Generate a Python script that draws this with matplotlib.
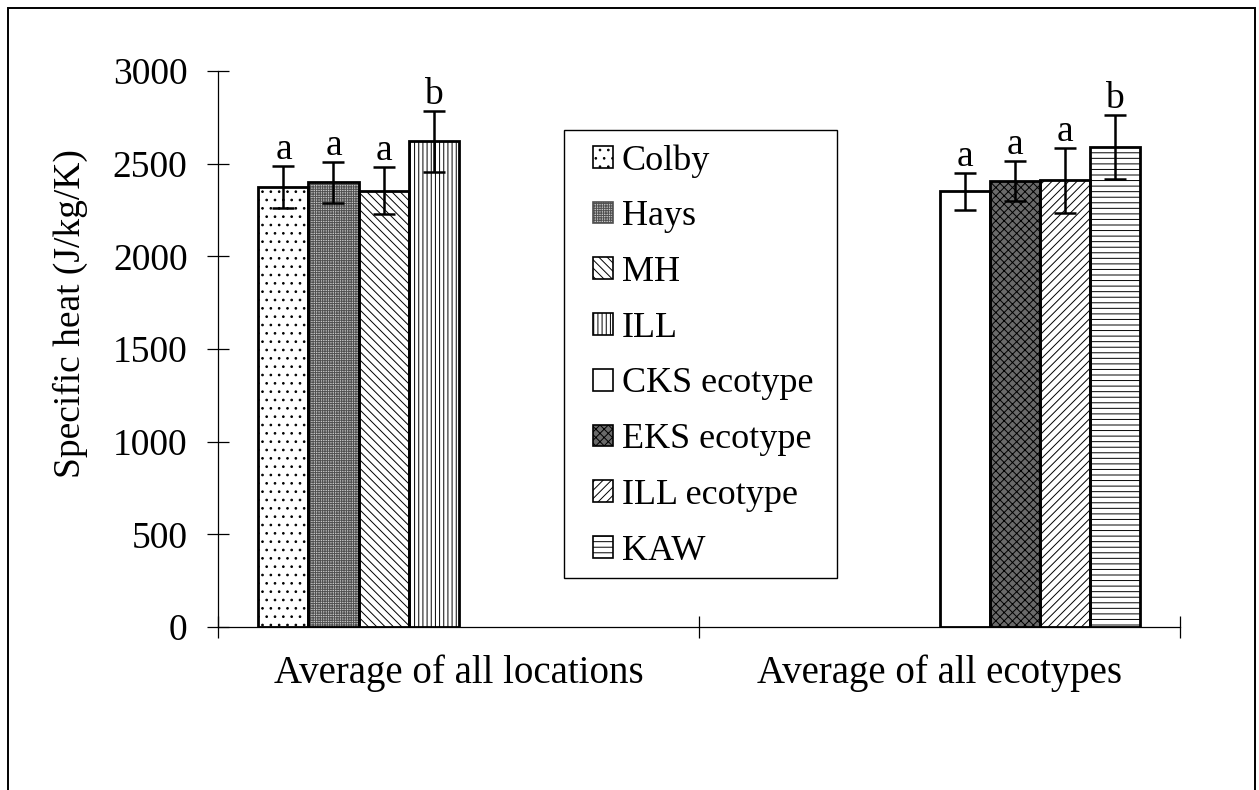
import numpy as np
import matplotlib
matplotlib.use("Agg")
from matplotlib import pyplot as plt
from matplotlib.patches import Rectangle, Patch

# specific heat means and error bars, one bar per series
groups = ["Average of all locations", "Average of all ecotypes"]
series = ["Colby", "Hays", "MH", "ILL", "CKS ecotype", "EKS ecotype", "ILL ecotype", "KAW"]
series_group = [0, 0, 0, 0, 1, 1, 1, 1]
means = [2375, 2400, 2355, 2620, 2350, 2405, 2410, 2590]
errors = [115, 110, 125, 165, 100, 108, 175, 175]
letters = ["a", "a", "a", "b", "a", "a", "a", "b"]

# fill, hatch and hatch colour per series
faces = ["white", "#c8c8c8", "white", "white", "white", "#6a6a6a", "white", "white"]
hatches = ["..", "+++++++", "\\\\\\\\", "||||", None, "xxxx", "////", "---"]
hatch_colors = ["black", "#505050", "black", "black", "black", "black", "black", "black"]

plt.rcParams["font.family"] = ["Liberation Serif", "DejaVu Serif"]
plt.rcParams["hatch.linewidth"] = 0.7

fig = plt.figure(figsize=(12.59, 7.9), dpi=100)
ax = fig.add_axes([0.1732, 0.2063, 0.7641, 0.7038])

width = 0.104
handles = []
for i, name in enumerate(series):
    # Excel style: 8 slots per category, series sits in its own slot
    x = series_group[i] + 0.5 + (i - 3.5) * width
    # fill + hatch first, then the black outline on top
    ax.bar(x, means[i], width, color=faces[i], edgecolor=hatch_colors[i],
           linewidth=0, hatch=hatches[i], zorder=2)
    ax.bar(x, means[i], width, fill=False, edgecolor="black",
           linewidth=2.0, zorder=2.5)
    ax.errorbar(x, means[i], yerr=errors[i], fmt="none", ecolor="black",
                elinewidth=1.8, capsize=8, capthick=1.8, zorder=3)
    ax.annotate(letters[i], (x, means[i] + errors[i]), xytext=(0, 5),
                textcoords="offset points", ha="center", va="baseline",
                fontsize=27)
    handles.append(Patch(facecolor=faces[i], edgecolor=hatch_colors[i],
                         hatch=hatches[i], linewidth=1.2, label=name))

ax.set_xlim(0, 2)
ax.set_ylim(0, 3000)
ax.set_yticks(np.arange(0, 3001, 500))
ax.set_xticks([0, 1, 2])
ax.set_xticklabels([])
ax.set_xticks([0.5, 1.5], minor=True)
ax.set_xticklabels(groups, minor=True)
ax.tick_params(axis="both", which="major", direction="inout", length=16,
               width=0.9, labelsize=27, pad=14)
ax.tick_params(axis="x", which="minor", length=0, labelsize=28, pad=20)
for side in ["top", "right"]:
    ax.spines[side].set_visible(False)
for side in ["left", "bottom"]:
    ax.spines[side].set_linewidth(0.9)
ax.set_ylabel("Specific heat (J/kg/K)", fontsize=27)
ax.yaxis.set_label_coords(-0.135, 0.564)

ax.legend(handles=handles, loc="upper left", bbox_to_anchor=(593 / 1259, 1 - 144 / 790),
          bbox_transform=fig.transFigure, fontsize=26, frameon=False,
          handlelength=0.55, handleheight=0.55, handletextpad=0.25,
          labelspacing=0.63, borderpad=0, borderaxespad=0)
# legend frame
fig.patches.append(Rectangle((564 / 1259, 1 - 578 / 790), 273 / 1259, 448 / 790,
                             transform=fig.transFigure, fill=False,
                             edgecolor="black", linewidth=1.0))

# outer frame round the whole chart
fig.patches.append(Rectangle((8 / 1259, -0.05), 1247 / 1259, 1.05 - 8 / 790,
                             transform=fig.transFigure, fill=False,
                             edgecolor="black", linewidth=1.4))

fig.savefig("out.png", dpi=100)
